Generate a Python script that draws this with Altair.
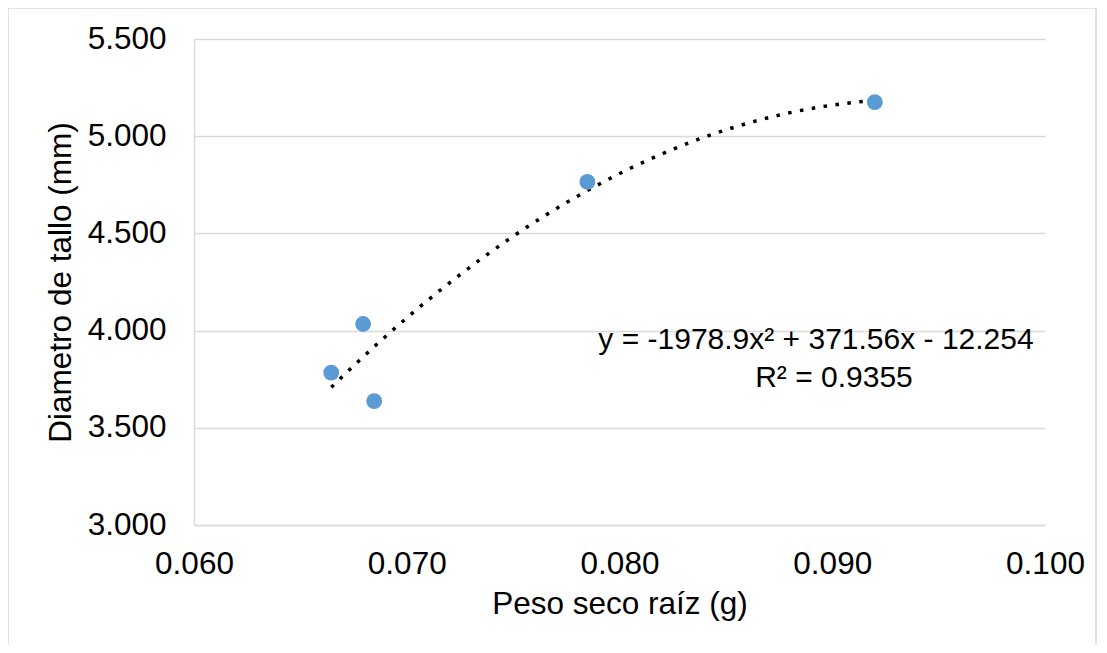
import altair as alt
import pandas as pd

peso = [0.06645, 0.06795, 0.06847, 0.07849, 0.0920]
diametro = [3.784, 4.034, 3.637, 4.765, 5.175]
eq_lines = ["y = -1978.9x² + 371.56x - 12.254", "R² = 0.9355"]

df = pd.DataFrame({"peso": peso, "diametro": diametro})

FONT = "Liberation Sans"
FS = 31.5
W, H = 851, 486

xs = alt.Scale(domain=[0.06, 0.1], nice=False, zero=False)
ys = alt.Scale(domain=[3.0, 5.5], nice=False, zero=False)

base = alt.Chart(df)

frame = alt.Chart(pd.DataFrame({"a": [0]})).mark_rect(
    fill=None, stroke="#d9d9d9", strokeWidth=1.5
).encode(x=alt.value(-186), x2=alt.value(902), y=alt.value(-31), y2=alt.value(640))

points = base.mark_circle(size=250, color="#5B9BD5", opacity=1).encode(
    x=alt.X("peso:Q", scale=xs,
            axis=alt.Axis(title="Peso seco raíz (g)", values=[0.06, 0.07, 0.08, 0.09, 0.1],
                          format=".3f", grid=False, ticks=False, domainColor="#d9d9d9",
                          domainWidth=1.5, labelPadding=23, titlePadding=9,
                          labelFlush=False, labelOverlap=False)),
    y=alt.Y("diametro:Q", scale=ys,
            axis=alt.Axis(title="Diametro de tallo (mm)", values=[3.0, 3.5, 4.0, 4.5, 5.0, 5.5],
                          format=".3f",
                          grid=True, gridColor="#d9d9d9", gridWidth=1.5, ticks=False,
                          domainColor="#d9d9d9", domainWidth=1.5, labelPadding=28,
                          titlePadding=10, labelFlush=False, labelOverlap=False)),
)

trend = base.transform_regression(
    "peso", "diametro", method="poly", order=2
).mark_line(color="black", strokeDash=[3.5, 8.5], strokeWidth=3.5, strokeCap="butt").encode(
    x=alt.X("peso:Q", scale=xs), y=alt.Y("diametro:Q", scale=ys)
)

eq1 = alt.Chart(pd.DataFrame({"t": [eq_lines[0]]})).mark_text(
    font=FONT, fontSize=30, color="black", align="center", baseline="middle"
).encode(text="t:N", x=alt.value(622), y=alt.value(301))
eq2 = alt.Chart(pd.DataFrame({"t": [eq_lines[1]]})).mark_text(
    font=FONT, fontSize=30, color="black", align="center", baseline="middle"
).encode(text="t:N", x=alt.value(640), y=alt.value(339))

chart = alt.layer(frame, trend, points, eq1, eq2).properties(
    width=W, height=H,
    autosize=alt.AutoSizeParams(type="none"),
    padding={"left": 186, "top": 31, "right": 54, "bottom": 120},
).configure_view(stroke=None).configure_axis(
    labelFont=FONT, titleFont=FONT, labelFontSize=FS, titleFontSize=FS,
    labelColor="black", titleColor="black", titleFontWeight="normal"
)

chart.save("out.html", embed_options={"renderer": "svg", "actions": False})
